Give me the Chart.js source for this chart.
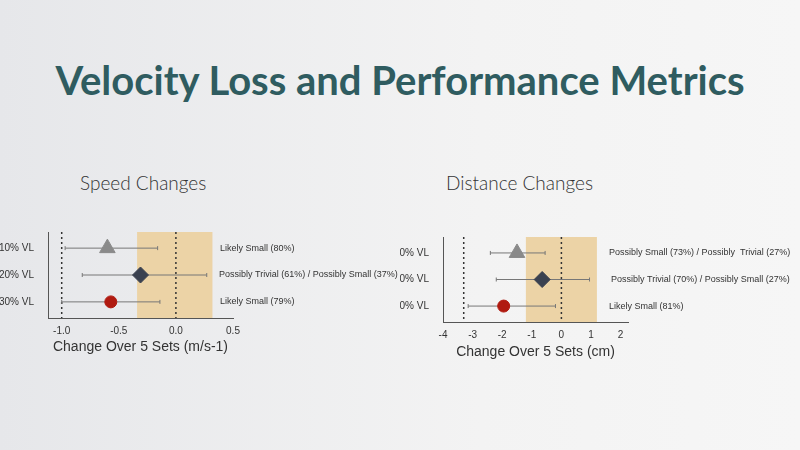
<!DOCTYPE html>
<html><head><meta charset="utf-8">
<script src="https://cdn.jsdelivr.net/npm/chart.js@4"></script>
<style>
body{margin:0;width:800px;height:450px;overflow:hidden;background:linear-gradient(90deg,#e6e7ea,#f3f3f3 60%,#f6f6f6);font-family:Lato,"Open Sans",sans-serif;position:relative}
#t{position:absolute;top:56px;left:0;width:800px;text-align:center;font:bold 40px Lato,sans-serif;color:#2f5c60}
.s{position:absolute;top:171px;font:300 19px Lato,sans-serif;color:#333}
canvas{position:absolute}
</style></head><body>
<div id="t">Velocity Loss and Performance Metrics</div>
<div class="s" style="left:80px">Speed Changes</div>
<div class="s" style="left:446px">Distance Changes</div>
<div style="position:absolute;left:0;top:220px;width:400px;height:140px"><canvas id="c1"></canvas></div>
<div style="position:absolute;left:400px;top:225px;width:400px;height:140px"><canvas id="c2"></canvas></div>
<script>
const categories=['10% VL','20% VL','30% VL'];
const speedMean=[-0.6,-0.31,-0.57];
const speedLow=[-0.97,-0.82,-1.0];
const speedHigh=[-0.16,0.27,-0.14];
const speedNotes=['Likely Small (80%)','Possibly Trivial (61%) / Possibly Small (37%)','Likely Small (79%)'];
const speedTicks=[-1.0,-0.5,0.0,0.5];
const speedBand=[-0.34,0.32];
const speedRefs=[-1.0,0.0];
const distMean=[-1.5,-0.65,-1.95];
const distLow=[-2.4,-2.2,-3.15];
const distHigh=[-0.55,0.95,-0.2];
const distNotes=['Possibly Small (73%) / Possibly  Trivial (27%)','Possibly Trivial (70%) / Possibly Small (27%)','Likely Small (81%)'];
const distTicks=[-4,-3,-2,-1,0,1,2];
const distBand=[-1.2,1.2];
const distRefs=[-3.3,0];
const styles=['triangle','rectRot','circle'];
const colors=['#8a8a8a','#3a4150','#b01a10'];
const radii=[9,8,6];
const F='"Liberation Sans",Arial,sans-serif';

function make(id,mean,low,high,notes,band,refs,tickVals,opt){
  const deco={id:'deco',
    beforeDatasetsDraw(c){const x=c.scales.x,y=c.scales.y,ctx=c.ctx,a=c.chartArea;ctx.save();
      ctx.fillStyle='#ecd3a6';ctx.fillRect(x.getPixelForValue(band[0]),a.top,x.getPixelForValue(band[1])-x.getPixelForValue(band[0]),a.bottom-a.top);
      ctx.strokeStyle='#333';ctx.lineWidth=1.5;ctx.setLineDash([2,3]);
      refs.forEach(r=>{const px=x.getPixelForValue(r);ctx.beginPath();ctx.moveTo(px,a.top);ctx.lineTo(px,a.bottom);ctx.stroke();});
      ctx.setLineDash([]);ctx.strokeStyle='#777';ctx.lineWidth=1;
      categories.forEach((k,i)=>{const py=y.getPixelForValue(i),x0=x.getPixelForValue(low[i]),x1=x.getPixelForValue(high[i]);
        ctx.beginPath();ctx.moveTo(x0,py);ctx.lineTo(x1,py);ctx.moveTo(x0,py-2);ctx.lineTo(x0,py+2);ctx.moveTo(x1,py-2);ctx.lineTo(x1,py+2);ctx.stroke();});
      ctx.fillStyle='#333';ctx.font='9px '+F;ctx.textBaseline='middle';
      notes.forEach((n,i)=>ctx.fillText(n,opt.noteX[i],y.getPixelForValue(i)));
      ctx.restore();}};
  new Chart(document.getElementById(id),{type:'scatter',
    data:{datasets:[{data:mean.map((v,i)=>({x:v,y:i})),pointStyle:styles,backgroundColor:colors,borderColor:colors,pointRadius:radii,pointHoverRadius:radii}]},
    options:{responsive:true,maintainAspectRatio:false,animation:false,events:[],
      layout:{padding:{top:opt.top,right:400-opt.right,left:0}},
      plugins:{legend:{display:false},tooltip:{enabled:false}},
      scales:{
        x:{type:'linear',min:opt.min,max:opt.max,afterBuildTicks:s=>{s.ticks=tickVals.map(v=>({value:v}));},
          ticks:{color:'#333',font:{size:10,family:F},callback:opt.fmt,padding:3,autoSkip:false,maxRotation:0},
          grid:{display:false,drawTicks:true,tickLength:4},border:{color:'#555',width:1},
          title:{display:true,text:opt.title,color:'#333',font:{size:14,family:F},padding:{top:2}},
          afterFit:s=>{s.height=opt.xh}},
        y:{type:'linear',min:-0.6,max:2.6,reverse:true,afterBuildTicks:s=>{s.ticks=categories.map((k,i)=>({value:i}));},
          ticks:{color:'#333',font:{size:10,family:F},padding:6,callback:v=>categories[v]||''},
          grid:{display:false},border:{color:'#555',width:1},afterFit:s=>{s.width=opt.left}}
      }},plugins:[deco]});
}
make('c1',speedMean,speedLow,speedHigh,speedNotes,speedBand,speedRefs,speedTicks,
  {top:8,right:233,left:48,xh:42,min:-1.12,max:0.5,fmt:v=>v.toFixed(1),title:'Change Over 5 Sets (m/s-1)',noteX:[220,219,220]});
make('c2',distMean,distLow,distHigh,distNotes,distBand,distRefs,distTicks,
  {top:12,right:228,left:43,xh:43,min:-4,max:2.25,fmt:v=>String(v),title:'Change Over 5 Sets (cm)',noteX:[209,211,209]});
</script></body></html>
